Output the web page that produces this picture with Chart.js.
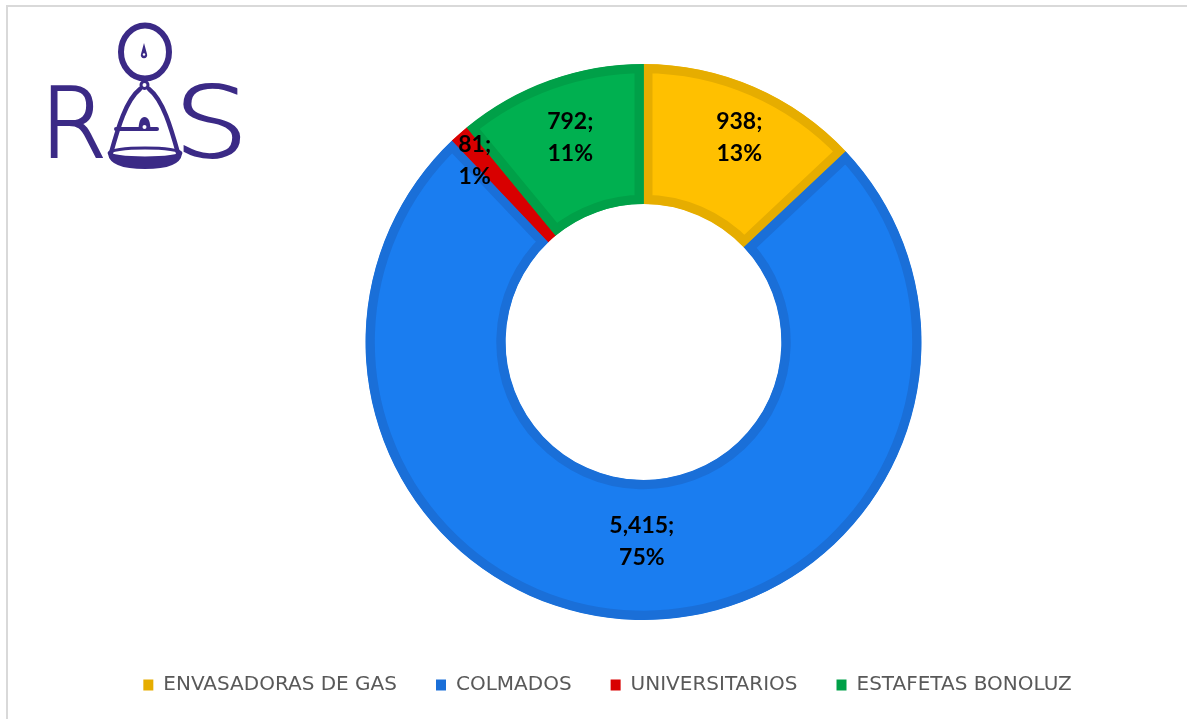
<!DOCTYPE html>
<html>
<head>
<meta charset="utf-8">
<script src="https://cdn.jsdelivr.net/npm/chart.js@4.4.1/dist/chart.umd.min.js"></script>
<style>
  html, body { margin: 0; padding: 0; background: #fff; }
  #wrap { position: relative; width: 1187px; height: 719px; overflow: hidden; }
  #frame { position: absolute; left: 6px; top: 5px; width: 1200px; height: 730px;
           border-left: 2px solid #d9d9d9; border-top: 2px solid #d9d9d9; }
  #logo { position: absolute; left: 0; top: 0; }
  #box { position: absolute; left: 0; top: 0; width: 1187px; height: 719px; }
</style>
</head>
<body>
<div id="wrap">
  <div id="frame"></div>
  <div id="box"><canvas id="myChart"></canvas></div>
  <svg id="logo" width="260" height="180" viewBox="0 0 260 180">
    <g fill="none" stroke="#3b2a86" stroke-linecap="round">
      <ellipse cx="145" cy="52" rx="24" ry="26.5" stroke-width="6"/>
      <circle cx="144.5" cy="85" r="3.5" stroke-width="3" fill="#fff"/>
      <path d="M140 89 C126 100 118 128 111 153" stroke-width="4.5"/>
      <path d="M149 89 C163 100 171 128 178 153" stroke-width="4.5"/>
      <path d="M116 129 L139 129 M150 129 L157 129" stroke-width="4"/>
      <ellipse cx="145" cy="153" rx="36" ry="5" stroke-width="3"/>
    </g>
    <path d="M138.5 131 Q138.5 117 144.5 117 Q150.5 117 150.5 131 Z" fill="#3b2a86"/>
    <circle cx="144.5" cy="127" r="2" fill="#fff"/>
    <path d="M144 43 L141 54 A3.2 3.2 0 1 0 147 54 Z" fill="#3b2a86"/>
    <circle cx="144" cy="54.5" r="1.2" fill="#fff"/>
    <path d="M108 154 Q110 169 145 169 Q180 169 182 154 Q145 161 108 154 Z" fill="#3b2a86"/>
    <text x="40" y="157" font-family="DejaVu Sans" font-weight="200" font-size="96"
          fill="#3b2a86" stroke="#3b2a86" stroke-width="2">R</text>
    <text transform="translate(174,157) scale(1.2,1)" x="0" y="0" font-family="DejaVu Sans"
          font-weight="200" font-size="98" fill="#3b2a86" stroke="#3b2a86" stroke-width="1.8">S</text>
  </svg>
</div>
<script>
var categorias = ['ENVASADORAS DE GAS', 'COLMADOS', 'UNIVERSITARIOS', 'ESTAFETAS BONOLUZ'];
var cantidades = [938, 5415, 81, 792];
var rellenos = ['#ffc000', '#1a7df0', '#e60000', '#00b050'];
var bordes = ['#e6ad00', '#1a6fd8', '#d80000', '#00a048'];

// etiquetas "valor; porcentaje" dentro de cada porción
var etiquetas = {
  id: 'etiquetas',
  afterDatasetsDraw: function (chart, args, opts) {
    var ctx = chart.ctx;
    var meta = chart.getDatasetMeta(0);
    var datos = chart.data.datasets[0].data;
    var total = datos.reduce(function (a, b) { return a + b; }, 0);
    ctx.save();
    ctx.font = 'bold 23px Lato';
    ctx.fillStyle = '#000';
    ctx.textAlign = 'center';
    ctx.textBaseline = 'middle';
    meta.data.forEach(function (arc, i) {
      var p = arc.getProps(['x', 'y', 'startAngle', 'endAngle', 'innerRadius', 'outerRadius'], true);
      var mid = (p.startAngle + p.endAngle) / 2 + opts.gira[i];
      var r = (p.innerRadius + p.outerRadius) / 2 + opts.desplaza[i];
      var cx = p.x + Math.cos(mid) * r;
      var cy = p.y + Math.sin(mid) * r;
      var pct = Math.round(datos[i] / total * 100);
      ctx.fillText(datos[i].toLocaleString('en-US') + ';', cx, cy - 16);
      ctx.fillText(pct + '%', cx, cy + 16);
    });
    ctx.restore();
  }
};

// la leyenda del original queda algo a la izquierda del centro del anillo
var moverLeyenda = {
  id: 'moverLeyenda',
  afterLayout: function (chart, args, opts) {
    if (chart.legend) {
      chart.legend.left += opts.dx;
      chart.legend.right += opts.dx;
    }
  }
};

var ctx = document.getElementById('myChart');
var myChart = new Chart(ctx, {
  type: 'doughnut',
  data: {
    labels: categorias,
    datasets: [{
      data: cantidades,
      backgroundColor: rellenos,
      borderColor: bordes,
      borderWidth: 9,
      borderAlign: 'inner',
      radius: 278,
      cutout: '49.6%'
    }]
  },
  options: {
    responsive: true,
    maintainAspectRatio: false,
    animation: false,
    layout: {
      padding: { top: 48, left: 100, right: 0, bottom: 14 }
    },
    plugins: {
      tooltip: { enabled: false },
      etiquetas: { desplaza: [18, -8, 40, 9], gira: [0.03, -0.02, -0.025, 0] },
      moverLeyenda: { dx: -36 },
      legend: {
        display: true,
        position: 'bottom',
        labels: {
          boxWidth: 10,
          boxHeight: 11,
          padding: 39,
          color: '#595959',
          font: { family: 'DejaVu Sans', size: 20 },
          generateLabels: function (chart) {
            var items = Chart.overrides.doughnut.plugins.legend.labels.generateLabels(chart);
            items.forEach(function (it, i) {
              it.fillStyle = bordes[i];
              it.strokeStyle = bordes[i];
              it.lineWidth = 0;
            });
            return items;
          }
        }
      }
    }
  },
  plugins: [etiquetas, moverLeyenda]
});
</script>
</body>
</html>
